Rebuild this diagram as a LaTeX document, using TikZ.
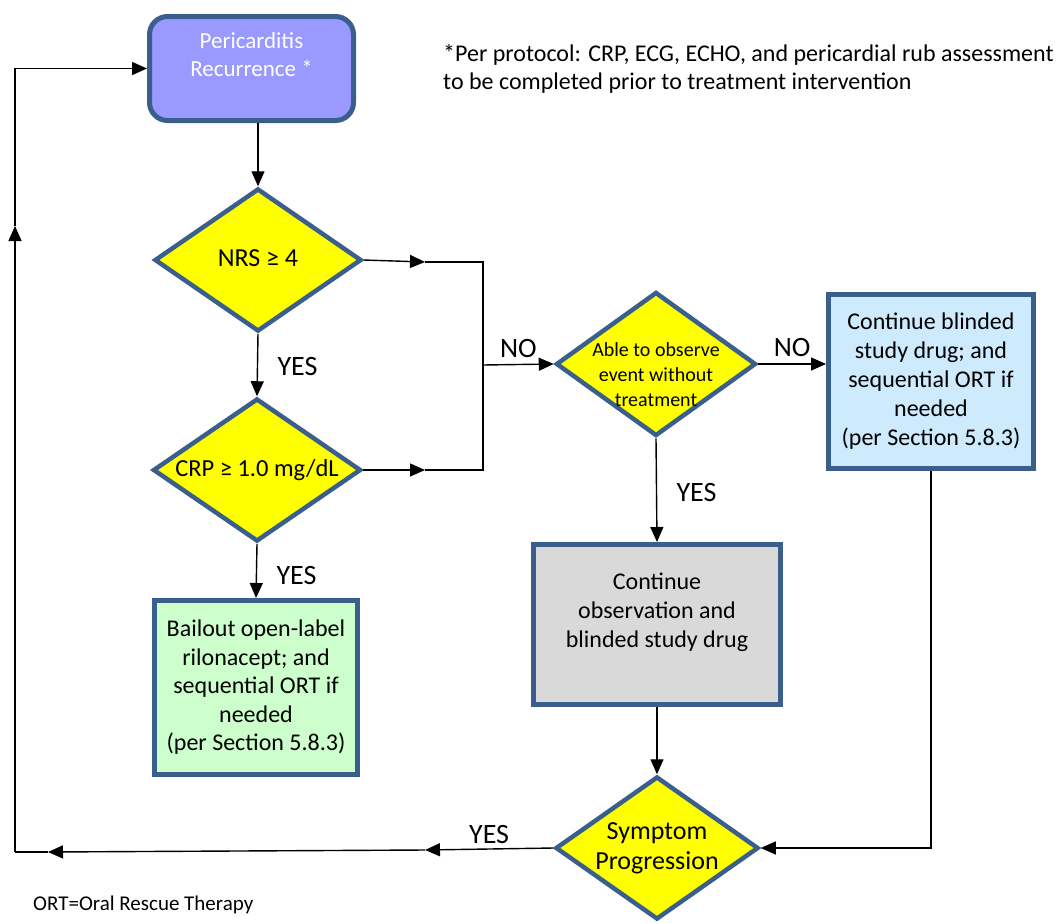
\documentclass[tikz,border=0pt]{standalone}
\usepackage{fontspec}
\setmainfont{Carlito}
\usetikzlibrary{shapes.geometric,arrows.meta}
\definecolor{edgeblue}{RGB}{58,95,140}
\definecolor{recurfill}{RGB}{153,153,255}
\definecolor{decfill}{RGB}{255,255,0}
\definecolor{bailfill}{RGB}{204,255,204}
\definecolor{contfill}{RGB}{206,234,253}
\definecolor{obsfill}{RGB}{217,217,217}
\def\dlines#1{\makebox[0pt]{\begin{tabular}{@{}c@{}}#1\end{tabular}}}
\tikzset{
	dec/.style={diamond, draw=edgeblue, fill=decfill, line width=4.5pt, inner sep=0pt},
	box/.style={rectangle, draw=edgeblue, line width=5pt, align=center},
	flow/.style={line width=1.4pt, -{Triangle[length=15pt,width=13pt]}},
	link/.style={line width=1.4pt},
	lbl/.style={font=\fontsize{28}{32}\selectfont}
}

\begin{document}
\begin{tikzpicture}[x=1pt,y=-1pt]
				\useasboundingbox (0,0) rectangle (1058,922);
				
				\node[box, rounded corners=18pt, fill=recurfill, text=white, minimum width=204pt, minimum height=104pt, font=\fontsize{23}{28}\selectfont] (recur) at (251.5,68.5) {Pericarditis\\Recurrence *\\~};
				\node[anchor=north west, inner sep=0pt, align=left, font=\fontsize{24}{28}\selectfont] (note) at (443,44) {*Per protocol: CRP, ECG, ECHO, and pericardial rub assessment\\to be completed prior to treatment intervention};
				
				\node[dec, minimum width=207pt, minimum height=143pt, font=\fontsize{26}{30}\selectfont] (nrs) at (258,260) {\dlines{NRS ≥ 4}};
				\node[dec, minimum width=208pt, minimum height=143pt, font=\fontsize{24.5}{30}\selectfont] (crp) at (257,470) {\dlines{CRP ≥ 1.0 mg/dL}};
				\node[dec, minimum width=200pt, minimum height=144pt, font=\fontsize{20}{25}\selectfont] (obs) at (656,364) {\dlines{~\\Able to observe\\event without\\treatment}};
				\node[dec, minimum width=203pt, minimum height=143pt, font=\fontsize{26}{30}\selectfont] (symp) at (657,848) {\dlines{Symptom\\Progression}};
				
				\node[box, fill=bailfill, minimum width=203pt, minimum height=174pt, font=\fontsize{24}{28.5}\selectfont] (bail) at (256,687.5) {Bailout open-label\\rilonacept; and\\sequential ORT if\\needed\\(per Section 5.8.3)};
				\node[box, fill=contfill, minimum width=205pt, minimum height=174pt, font=\fontsize{24}{29}\selectfont] (cont) at (931,381.5) {Continue blinded\\study drug; and\\sequential ORT if\\needed\\(per Section 5.8.3)};
				\node[box, fill=obsfill, minimum width=247pt, minimum height=160pt, font=\fontsize{24}{29}\selectfont] (keep) at (657,624.5) {Continue\\observation and\\blinded study drug\\~};
				
				\node[anchor=west, inner sep=0pt, font=\fontsize{21}{24}\selectfont] (ort) at (33,905) {ORT=Oral Rescue Therapy};
				
				\coordinate (na) at (425,262);
				\coordinate (nb) at (483,262);
				\coordinate (ca) at (425,470);
				\coordinate (cb) at (483,470);
				\coordinate (mid) at (483,365);
				\coordinate (ya) at (425,850);
				\coordinate (yb) at (48,852);
				\coordinate (lc) at (15,852);
				\coordinate (lu) at (15,226);
				
				\draw[flow] (recur.south -| nrs.north) -- (nrs.north);
				\draw[flow] (nrs.south) -- (crp.north) node[lbl, midway, right=16pt, yshift=-2pt] {YES};
				\draw[flow] (crp.south) -- (bail.north) node[lbl, midway, right=16pt, yshift=-5pt] {YES};
				\draw[flow] (nrs.east) -- (na);
				\draw[flow] (crp.east) -- (ca);
				\draw[link] (na) -- (nb) -- (cb) -- (ca);
				\draw[flow] (mid) -- (obs.west) node[lbl, midway, above, yshift=3pt] {NO};
				\draw[flow] (obs.east) -- (obs.east -| cont.west) node[lbl, midway, above, yshift=3pt] {NO};
				\draw[flow] (obs.south) -- (keep.north) node[lbl, midway, right=16pt, yshift=-2pt] {YES};
				\draw[flow] (keep.south) -- (symp.north);
				\draw[flow] (cont.south) |- (symp.east);
				\draw[flow] (symp.west) -- (ya) node[lbl, midway, above, yshift=1pt] {YES};
				\draw[flow] (ya) -- (yb);
				\draw[link] (yb) -- (lc);
				\draw[flow] (lc) -- (lu);
				\draw[flow] (lu) |- (recur.west);
			\end{tikzpicture}
\end{document}
